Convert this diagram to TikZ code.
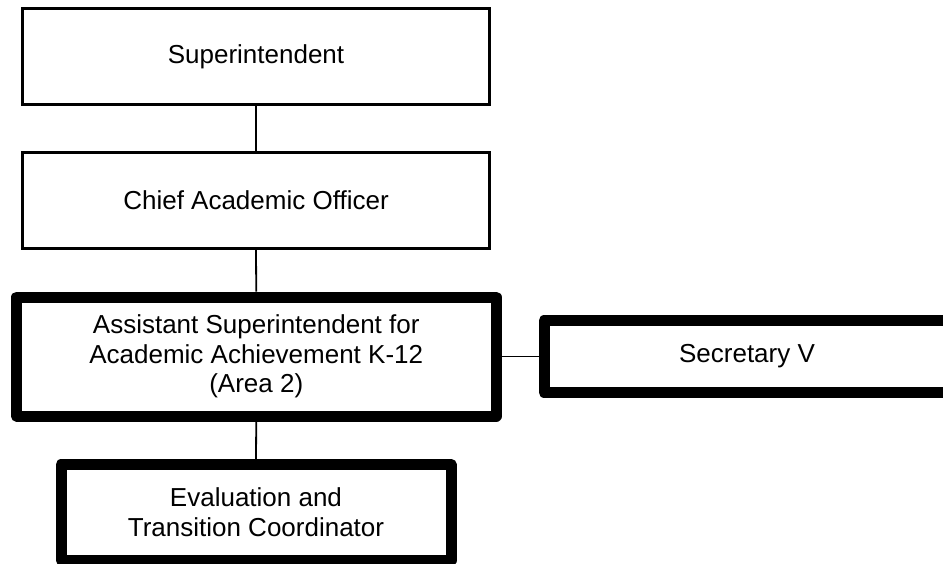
\documentclass[tikz,border=0pt]{standalone}
\usepackage{fontspec}
\setmainfont{Liberation Sans}
\begin{document}
\begin{tikzpicture}[x=1pt,y=-1pt,
  thinbox/.style={draw=black, line width=3pt, fill=white, inner sep=0pt, align=center,
    font={\fontsize{26}{29.5}\selectfont}},
  thickbox/.style={draw=black, line width=11pt, line join=round, fill=white, inner sep=0pt, align=center,
    font={\fontsize{26}{29.5}\selectfont}},
  conn/.style={draw=black, line width=1.8pt}]
\useasboundingbox (0,0) rectangle (943,563);
\clip (0,0) rectangle (943,563);
\node[thinbox, minimum width=467pt, minimum height=96pt] (sup) at (256,56.5) {Superintendent};
\node[thinbox, minimum width=467pt, minimum height=96pt] (cao) at (256,200.5) {Chief Academic Officer};
\node[thickbox, minimum width=479.5pt, minimum height=119pt] (asst) at (256.25,356.5)
  {Assistant Superintendent for\\Academic Achievement K-12\\(Area 2)};
\node[thickbox, minimum width=406pt, minimum height=72pt] (sec) at (747,356.5) {Secretary V};
\node[thickbox, minimum width=390pt, minimum height=95.5pt] (eval) at (256,512.25)
  {Evaluation and\\Transition Coordinator};
\draw[conn] (sup.south) -- (cao.north);
\draw[conn] (cao.south) -- (asst.north);
\draw[conn] (asst.south) -- (eval.north);
\draw[conn] (asst.east) -- (sec.west);
\end{tikzpicture}
\end{document}
